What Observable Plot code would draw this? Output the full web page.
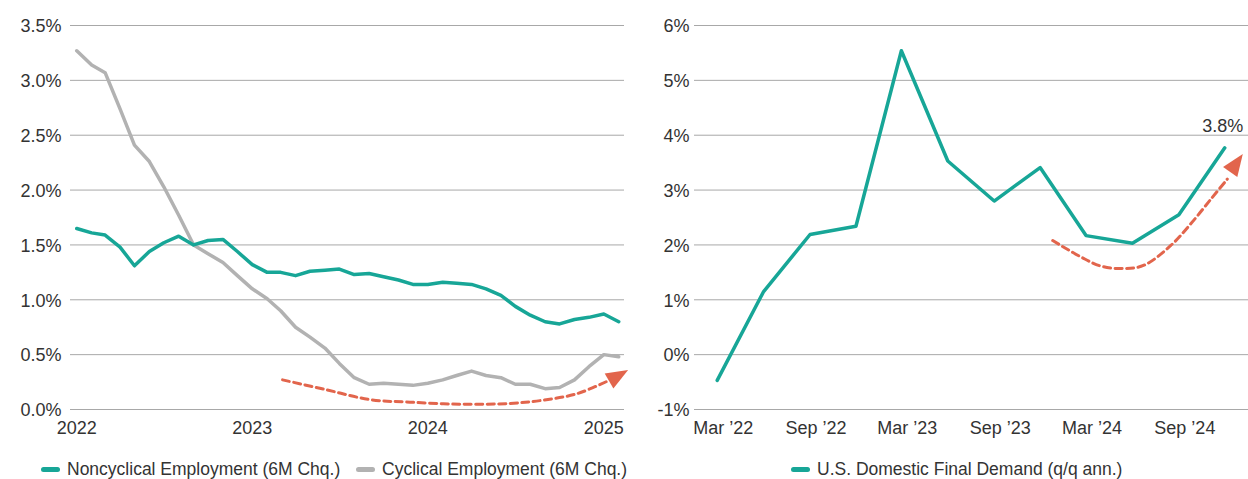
<!DOCTYPE html>
<html><head><meta charset="utf-8">
<script src="https://cdn.jsdelivr.net/npm/d3@7"></script>
<script src="https://cdn.jsdelivr.net/npm/@observablehq/plot@0.6"></script>
<style>
body{margin:0;background:#fff;}
#wrap{position:relative;width:1248px;height:479px;font-family:"Liberation Sans",Arial,sans-serif;color:#333;}
#left{position:absolute;left:0;top:0;}
#right{position:absolute;left:640px;top:0;}
.leg{position:absolute;top:457px;display:flex;align-items:center;font-size:17.5px;white-space:nowrap;line-height:24px;}
.sw{width:19px;height:5px;border-radius:3px;margin-right:7px;}
</style></head>
<body>
<div id="wrap">
  <div id="left"></div>
  <div id="right"></div>
  <div class="leg" style="left:41px"><span class="sw" style="background:#17a697"></span><span>Noncyclical Employment (6M Chq.)</span></div>
  <div class="leg" style="left:356px"><span class="sw" style="background:#b2b2b2"></span><span>Cyclical Employment (6M Chq.)</span></div>
  <div class="leg" style="left:791px"><span class="sw" style="background:#17a697"></span><span>U.S. Domestic Final Demand (q/q ann.)</span></div>
</div>
<script>
// ---- Left chart data (monthly, Jan 2022 – Feb 2025) ----
const leftMonths = d3.utcMonth.range(new Date(Date.UTC(2022,0,1)), new Date(Date.UTC(2025,2,1)));
const noncyclical = [1.65,1.61,1.59,1.48,1.31,1.44,1.52,1.58,1.50,1.54,1.55,1.44,
                     1.32,1.25,1.25,1.22,1.26,1.27,1.28,1.23,1.24,1.21,1.18,1.14,
                     1.14,1.16,1.15,1.14,1.10,1.04,0.94,0.86,0.80,0.78,0.82,0.84,
                     0.87,0.80];
const cyclical = [3.27,3.14,3.07,2.74,2.41,2.26,2.03,1.77,1.50,1.42,1.34,1.22,
                  1.10,1.01,0.90,0.75,0.66,0.56,0.42,0.29,0.23,0.24,0.23,0.22,
                  0.24,0.27,0.31,0.35,0.31,0.29,0.23,0.23,0.19,0.20,0.27,0.39,
                  0.50,0.48];
const leftYTicks = [0,0.5,1,1.5,2,2.5,3,3.5];
const leftXTicks = ["2022-01-01","2023-01-01","2024-01-01","2025-01-01"];
const leftXLabels = ["2022","2023","2024","2025"];
const leftArrowPath = [["2023-03-05",0.27],["2023-06-04",0.18],["2023-09-03",0.09],["2023-11-25",0.067],
                       ["2024-03-07",0.048],["2024-06-19",0.055],["2024-08-28",0.085],["2024-11-07",0.145],["2025-01-14",0.27]];
const leftArrowHead = [["2025-01-25",0.293]];

// ---- Right chart data (quarterly, Mar 2022 – Dec 2024) ----
const quarters = ["2022-03-01","2022-06-01","2022-09-01","2022-12-01","2023-03-01","2023-06-01",
                  "2023-09-01","2023-12-01","2024-03-01","2024-06-01","2024-09-01","2024-12-01"];
const domesticDemand = [-0.47,1.15,2.19,2.34,5.54,3.53,2.80,3.41,2.17,2.03,2.55,3.77];
const rightYTicks = [-1,0,1,2,3,4,5,6];
const rightXTicks = ["2022-03-01","2022-09-01","2023-03-01","2023-09-01","2024-03-01","2024-09-01"];
const rightXLabels = ["Mar \u201922","Sep \u201922","Mar \u201923","Sep \u201923","Mar \u201924","Sep \u201924"];
const lastLabel = "3.8%";
const rightArrowPath = [["2023-12-26",2.08],["2024-02-20",1.78],["2024-04-01",1.61],["2024-05-16",1.57],
                        ["2024-06-24",1.63],["2024-08-16",1.99],["2024-09-25",2.39],["2024-11-04",2.84],["2024-12-06",3.20]];
const rightArrowHead = [["2024-12-20",3.44]];

// ---- styles ----
const TEAL = "#17a697", GRAY = "#b2b2b2", ORANGE = "#e2654c", GRID = "#a8a8a8";
const FONT = {fontFamily:"'Liberation Sans', Arial, sans-serif", fontSize:"18px", color:"#333", background:"transparent", overflow:"visible"};
const D = s => new Date(s + "T00:00:00Z");

// isosceles arrowhead symbol pointing up, centred on its centroid
const arrowHead = {draw(context) {
  context.moveTo(0, -14.7);
  context.lineTo(8.7, 7.3);
  context.lineTo(-8.7, 7.3);
  context.closePath();
}};

const leftData = leftMonths.map((d,i) => ({date:d, non:noncyclical[i], cyc:cyclical[i]}));
const lArrow = leftArrowPath.map(([d,v]) => ({date:D(d), v}));
const lHead = leftArrowHead.map(([d,v]) => ({date:D(d), v}));
const lTicks = leftXTicks.map(D);

const left = Plot.plot({
  width:640, height:445, marginLeft:70, marginRight:16, marginTop:25, marginBottom:36,
  style:FONT,
  x:{type:"utc", domain:[D("2021-12-19"), D("2025-02-13")]},
  y:{domain:[0,3.5]},
  marks:[
    Plot.ruleY(leftYTicks, {stroke:GRID, strokeWidth:1}),
    Plot.axisY({ticks:leftYTicks, tickSize:0, tickPadding:9, dy:1, label:null,
                tickFormat:d => d.toFixed(1) + "%"}),
    Plot.axisX({ticks:lTicks, tickSize:0, tickPadding:12, label:null,
                tickFormat:d => leftXLabels[lTicks.findIndex(t => +t === +d)]}),
    Plot.line(lArrow, {x:"date", y:"v", curve:"catmull-rom", stroke:ORANGE, strokeWidth:3, strokeDasharray:"7,4.5"}),
    Plot.dot(lHead, {x:"date", y:"v", symbol:arrowHead, rotate:60, fill:ORANGE, stroke:"none"}),
    Plot.line(leftData, {x:"date", y:"cyc", stroke:GRAY, strokeWidth:3.5}),
    Plot.line(leftData, {x:"date", y:"non", stroke:TEAL, strokeWidth:3.5})
  ]
});
document.getElementById("left").append(left);

const rightData = quarters.map((q,i) => ({date:D(q), v:domesticDemand[i]}));
const rArrow = rightArrowPath.map(([d,v]) => ({date:D(d), v}));
const rHead = rightArrowHead.map(([d,v]) => ({date:D(d), v}));
const rTicks = rightXTicks.map(D);

const right = Plot.plot({
  width:608, height:445, marginLeft:54, marginRight:0, marginTop:25, marginBottom:36,
  style:FONT,
  x:{type:"utc", domain:[D("2022-01-15"), D("2025-01-17")]},
  y:{domain:[-1,6]},
  marks:[
    Plot.ruleY(rightYTicks, {stroke:GRID, strokeWidth:1}),
    Plot.axisY({ticks:rightYTicks, tickSize:0, tickPadding:5, dy:1, label:null,
                tickFormat:d => d + "%"}),
    Plot.axisX({ticks:rTicks, tickSize:0, tickPadding:12, dx:6, label:null,
                tickFormat:d => rightXLabels[rTicks.findIndex(t => +t === +d)]}),
    Plot.line(rArrow, {x:"date", y:"v", curve:"catmull-rom", stroke:ORANGE, strokeWidth:3, strokeDasharray:"7,4.5"}),
    Plot.dot(rHead, {x:"date", y:"v", symbol:arrowHead, rotate:35, fill:ORANGE, stroke:"none"}),
    Plot.line(rightData, {x:"date", y:"v", stroke:TEAL, strokeWidth:3.5}),
    Plot.text(rightData.slice(-1), {x:"date", y:"v", text:() => lastLabel, dy:-22, dx:-2, fill:"#333", fontSize:18})
  ]
});
document.getElementById("right").append(right);
</script>
</body></html>
